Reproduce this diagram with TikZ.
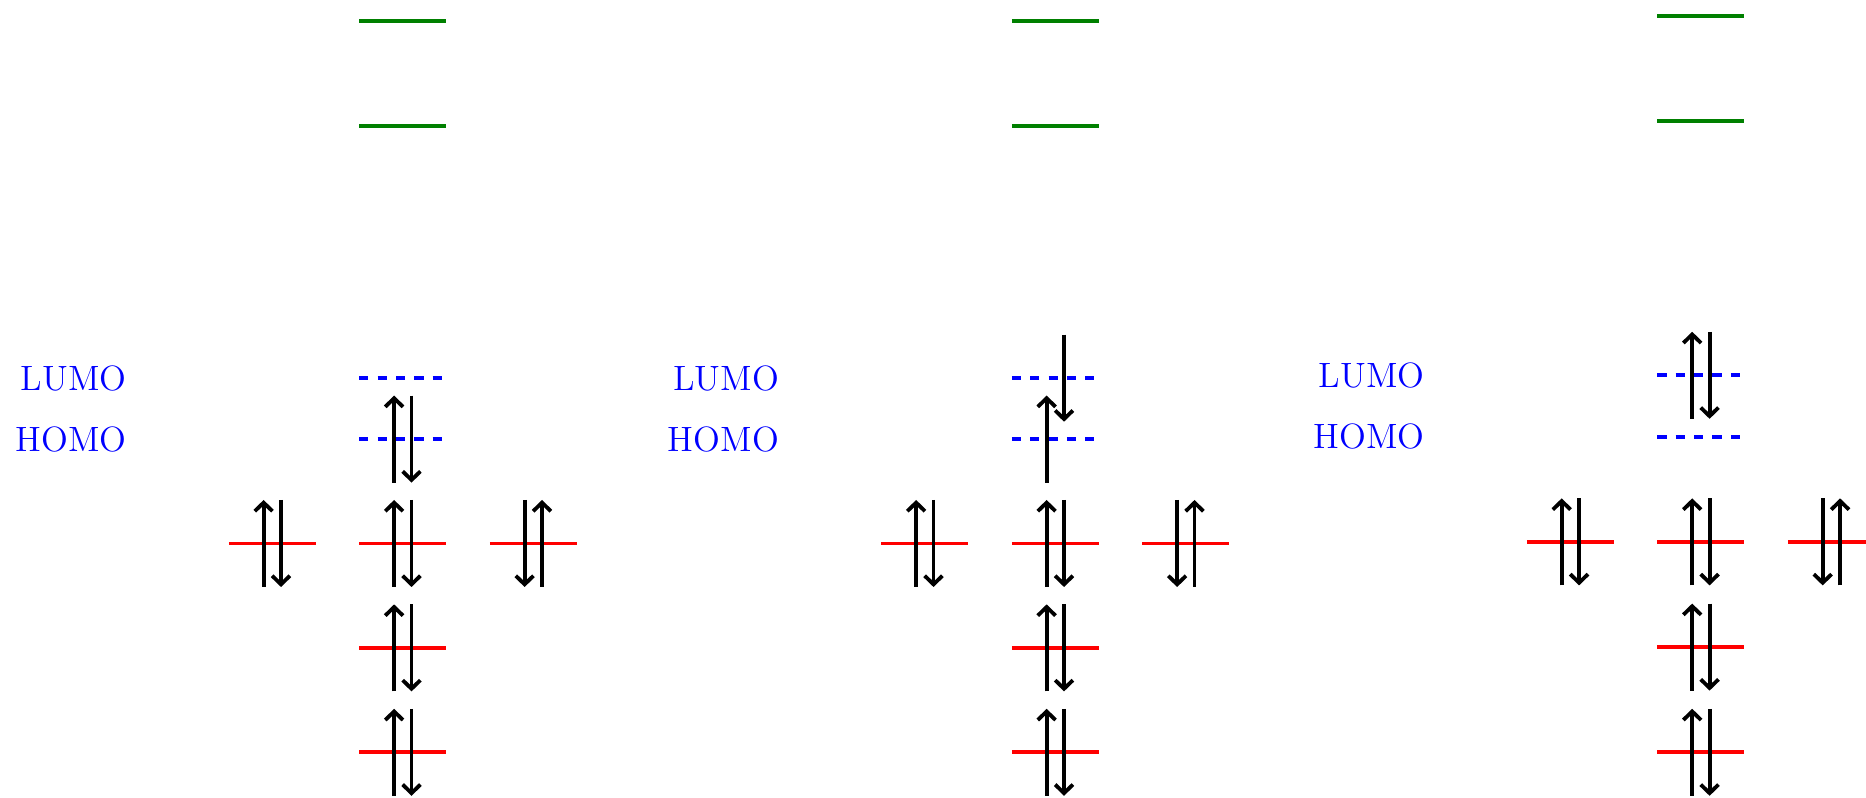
\documentclass[tikz,border=0pt]{standalone}
\usetikzlibrary{arrows.meta}
\begin{document}
\tikzset{
  lev/.style={line width=1.3pt},
  occ/.style={lev, red},
  virt/.style={lev, green!50!black},
  fron/.style={lev, blue, dashed},
  spin/.style={line width=1.25pt, -{Straight Barb[length=2.8pt,width=5.8pt]}},
  lbl/.style={blue, anchor=east, inner sep=0pt, font=\fontsize{11.5}{14}\selectfont},
  pics/up/.style={code={\draw[spin] (0,-0.5) -- (0,0.5);}},
  pics/dn/.style={code={\draw[spin] (0,0.5) -- (0,-0.5);}},
}
\newcommand{\molevels}[1]{%
  \draw[virt] (0,8.4) -- (1,8.4);
  \draw[virt] (0,7.2) -- (1,7.2);
  \draw[fron] (0,4.3) -- (1,4.3);
  \draw[fron] (0,3.6) -- (1,3.6);
  \node[lbl] (lumo#1) at (-2.67,4.3) {LUMO};
  \node[lbl] (homo#1) at (-2.67,3.6) {HOMO};
  \foreach \y in {0,1.2,2.4} {\draw[occ] (0,\y) -- (1,\y);}
  \draw[occ] (-1.5,2.4) -- (-0.5,2.4);
  \draw[occ] (1.5,2.4) -- (2.5,2.4);
  \foreach \y in {0,1.2,2.4} {\pic at (0.4,\y) {up}; \pic at (0.6,\y) {dn};}
  \pic at (-1.1,2.4) {up}; \pic at (-0.9,2.4) {dn};
  \pic at (1.9,2.4) {dn}; \pic at (2.1,2.4) {up};
}
\begin{tikzpicture}
  \clip (-4.130,-0.514) rectangle (17.318,8.647);
  \begin{scope}
    \molevels{a}
    \pic at (0.4,3.6) {up}; \pic at (0.6,3.6) {dn};
  \end{scope}
  \begin{scope}[xshift=7.5cm]
    \molevels{b}
    \pic at (0.4,3.6) {up}; \pic at (0.6,4.3) {dn};
  \end{scope}
  \begin{scope}[xshift=14.92cm, yscale=1.0077]
    \molevels{c}
    \pic at (0.4,4.3) {up}; \pic at (0.6,4.3) {dn};
  \end{scope}
\end{tikzpicture}
\end{document}
